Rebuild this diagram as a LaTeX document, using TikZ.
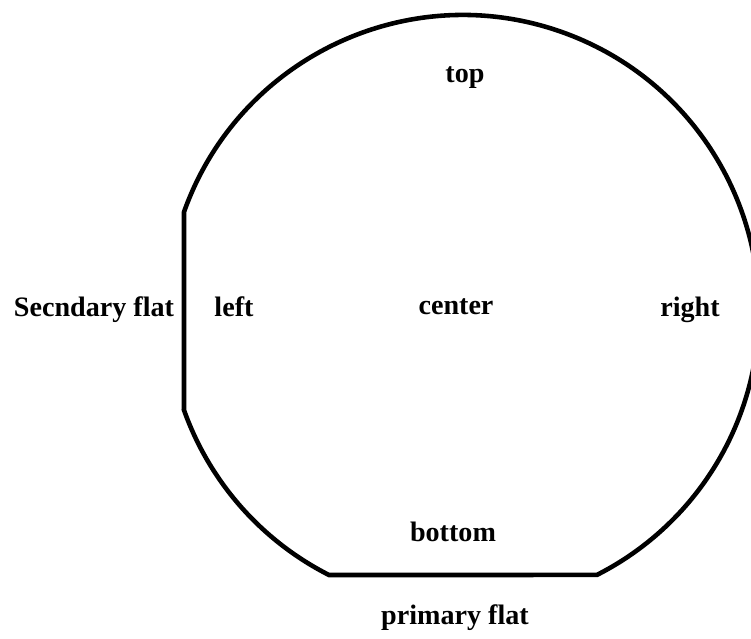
\documentclass[tikz,border=0pt]{standalone}
\usepackage{fontspec}
\setmainfont{Liberation Serif}
\usetikzlibrary{positioning}

\begin{document}
\begin{tikzpicture}[
        x=0.02cm, y=0.02cm,
        wafer/.style={line width=2.6pt, line join=miter},
        every node/.style={
            font=\fontsize{16}{18}\selectfont\bfseries,
            inner sep=0pt,
            anchor=base
        }
    ]
        \useasboundingbox (0,0) rectangle (751,639);

        % Wafer outline: circle with secondary (left) and primary (bottom) flat
        \coordinate (C) at (463,328);
        \coordinate (SecLow) at (184,229);
        \coordinate (SecHigh) at (184,427);
        \coordinate (PriLeft) at (329,64);
        \coordinate (PriRight) at (597,64);
        \begin{scope}
            \clip (0,0) rectangle (751,639);
            \draw[wafer] (SecLow) -- (SecHigh)
                arc[start angle=160.46, end angle=-63.1, radius=296]
                -- (PriLeft)
                arc[start angle=243.1, end angle=199.54, radius=296]
                -- cycle;
        \end{scope}

        % Position labels
        \node (top) at (465,556) {top};
        \node (center) at (456,324) {center};
        \node (left) at (234,322) {left};
        \node (right) at (690,322) {right};
        \node (bottom) at (453,97) {bottom};

        % Flat labels
        \node (secflat) at (94,322) {Secndary flat};
        \node (priflat) at (455,14) {primary flat};
\end{tikzpicture}
\end{document}
